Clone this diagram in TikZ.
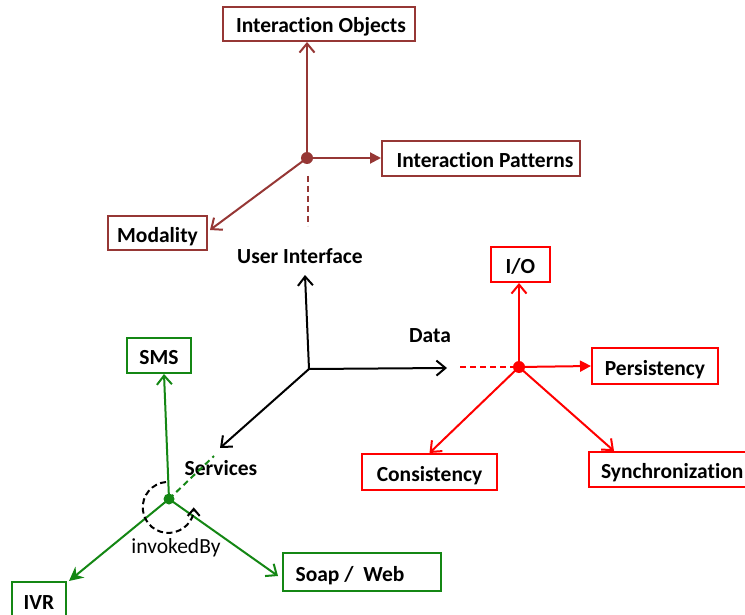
\documentclass[tikz,border=0pt]{standalone}
\usepackage{fontspec}
\setmainfont{Carlito}[Ligatures={NoCommon}]
\usetikzlibrary{arrows.meta,calc}
\definecolor{uibrown}{RGB}{150,55,53}
\definecolor{svgreen}{RGB}{20,135,20}
\definecolor{dtred}{RGB}{255,0,0}
\tikzset{
  box/.style={draw,line width=2pt,inner sep=0pt,text height=20pt,text depth=2pt,font=\fontsize{21.5}{24}\selectfont\bfseries},
  lbl/.style={inner sep=0pt,font=\fontsize{21.5}{24}\selectfont\bfseries},
  conn/.style={line width=2pt},
  openarr/.style={-{Straight Barb[length=9pt,width=15pt,line width=2pt]}},
  fillarr/.style={-{Triangle[length=11pt,width=11pt]}},
  kitearr/.style={-{Stealth[length=14pt,width=14pt]}},
  dsh/.style={line width=2pt,dash pattern=on 6pt off 4pt},
  hub/.style={circle,fill,inner sep=0pt,minimum size=12pt}
}
\begin{document}
\begin{tikzpicture}[x=1pt,y=-1pt]
\clip (0,0) rectangle (745,615);
\fill[white] (0,0) rectangle (745,615);
% ---------- User interface (brown)
\node[box,uibrown,text=black,minimum width=192pt,minimum height=34pt] (io) at (319,24) {\hspace*{4pt}Interaction Objects};
\node[box,uibrown,text=black,minimum width=198pt,minimum height=35pt] (ip) at (481,158.5) {\hspace*{8pt}Interaction Patterns};
\node[box,uibrown,text=black,minimum width=99pt,minimum height=34pt] (mod) at (157.5,233) {Modality};
\node[hub,uibrown] (uh) at (307,158) {};
\coordinate (uda) at (308,176);
\coordinate (udb) at (308,226);
\draw[conn,uibrown,openarr] (uh.center) -- (uh.center |- io.south);
\draw[conn,uibrown,fillarr] (uh.center) -- (ip.west |- uh.center);
\draw[conn,uibrown,openarr] (uh.center) -- ([xshift=2pt,yshift=3pt]mod.east);
\draw[dsh,uibrown] (uda) -- (udb);
\node[lbl] (ui) at (300,256) {User Interface};
% ---------- centre axes (black)
\coordinate (c0) at (309,369);
\coordinate (uitip) at (305,275);
\coordinate (datatip) at (447,368);
\coordinate (servtip) at (220,448);
\draw[conn,openarr] (c0) -- (uitip);
\draw[conn,openarr] (c0) -- (datatip);
\draw[conn,openarr] (c0) -- (servtip);
\node[lbl] (data) at (430,336) {Data};
\node[lbl] (serv) at (221,468) {Services};
% ---------- Data (red)
\node[box,dtred,text=black,minimum width=59pt,minimum height=35pt] (iobox) at (520.5,264.5) {I/O};
\node[box,dtred,text=black,minimum width=126pt,minimum height=36pt] (pers) at (655,366) {Persistency};
\node[box,dtred,text=black,minimum width=135pt,minimum height=36pt] (cons) at (429.5,472) {Consistency};
\node[box,dtred,text=black,minimum height=35pt,inner xsep=12pt,anchor=west] (sync) at (588,469.5) {Synchronization};
\node[hub,dtred] (rh) at (519,367) {};
\coordinate (rda) at (460,367);
\draw[dsh,dtred] (rda) -- (rh.center);
\draw[conn,dtred,openarr] (rh.center) -- (rh.center |- iobox.south);
\draw[conn,dtred,fillarr] (rh.center) -- (pers.west);
\draw[conn,dtred,openarr] (rh.center) -- (cons.north);
\draw[conn,dtred,openarr] (rh.center) -- ([xshift=26pt]sync.north west);
% ---------- Services (green)
\node[box,svgreen,text=black,minimum width=64pt,minimum height=35pt] (sms) at (159,355.5) {SMS};
\node[box,svgreen,text=black,minimum width=54pt,minimum height=36pt] (ivr) at (39,600) {IVR};
\node[box,svgreen,text=black,minimum width=158pt,minimum height=38pt] (soap) at (362,572) {Soap /\ \ Web\hspace*{24pt}};
\node[hub,svgreen,minimum size=11pt] (gh) at (169,499) {};
\coordinate (gda) at (214,456);
\draw[dsh,svgreen] (gh.center) -- (gda);
\draw[conn,svgreen,openarr] (gh.center) -- ([xshift=5pt]sms.south);
\draw[conn,svgreen,kitearr] (gh.center) -- ([xshift=2pt]ivr.north east);
\draw[conn,svgreen,openarr] (gh.center) -- ([xshift=-4pt,yshift=-4pt]soap.west);
% invokedBy loop
\draw[line width=2pt,dash pattern=on 6pt off 3.5pt,-{Straight Barb[length=7pt,width=12pt,line width=2pt]}]
  (166,482) arc[start angle=95,end angle=360,radius=25.5pt];
\node[inner sep=0pt,font=\fontsize{21.5}{24}\selectfont] (inv) at (176,548) {invokedBy};
\end{tikzpicture}
\end{document}
